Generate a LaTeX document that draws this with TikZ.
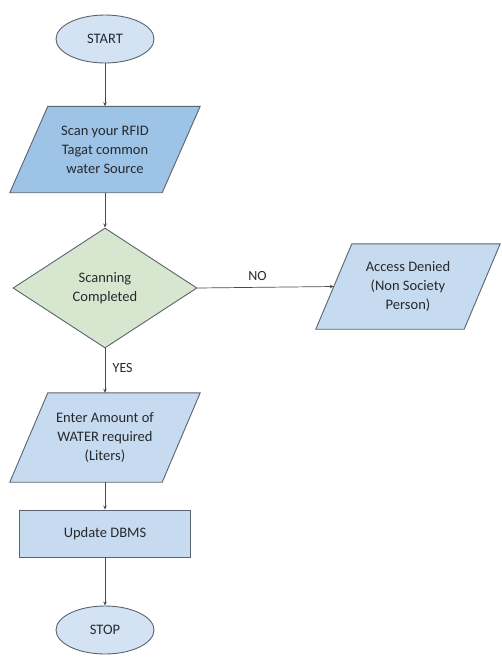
\documentclass[tikz,border=0pt]{standalone}
\usepackage{fontspec}
\setmainfont{Carlito}
\usetikzlibrary{shapes.geometric,arrows.meta,backgrounds}
\definecolor{bordc}{HTML}{5A646E}
\definecolor{linec}{HTML}{4A4A4A}
\definecolor{txtc}{HTML}{262A2E}
\definecolor{scanfill}{HTML}{9DC3E6}
\definecolor{parafill}{HTML}{C6DAF0}
\definecolor{ellfill}{HTML}{D4E3F4}
\definecolor{decfill}{HTML}{D7E7CF}
\begin{document}
\begin{tikzpicture}[x=1pt,y=-1pt,
  every node/.style={font=\fontsize{14.5}{19}\selectfont, text=txtc, align=center},
  term/.style={ellipse, draw=bordc, fill=ellfill, line width=0.9pt, minimum width=98pt, minimum height=48pt, inner sep=0pt},
  parabox/.style={rectangle, draw=none, inner sep=0pt},
  shapeline/.style={draw=bordc, line width=0.9pt},
  decbox/.style={diamond, draw=bordc, fill=decfill, line width=0.9pt, minimum width=184pt, minimum height=120pt, inner sep=0pt},
  procbox/.style={rectangle, draw=bordc, fill=parafill, line width=0.9pt, minimum width=171pt, minimum height=47pt, inner sep=0pt},
  conn/.style={draw=linec, line width=0.7pt, -{Stealth[length=4pt,width=3.5pt]}},
  lbl/.style={font=\fontsize{14}{16}\selectfont}
]
\useasboundingbox (0,0) rectangle (502,659);

\node[term] (start) at (105,39) {START};

\node[parabox, minimum width=152pt, minimum height=86pt] (scan) at (105,149.5)
  {Scan your RFID\\Tagat common\\water Source};

\node[decbox] (dec) at (105,288) {Scanning\\Completed};

\node[parabox, minimum width=148pt, minimum height=85pt] (acc) at (408,286.5)
  {Access Denied\\(Non Society\\Person)};

\node[parabox, minimum width=152pt, minimum height=89pt] (enter) at (105,437.5)
  {Enter Amount of\\WATER required\\(Liters)};

\node[procbox] (upd) at (105,533.5) {Update DBMS};

\node[term] (stop) at (105,630) {STOP};

\begin{scope}[on background layer]
  \path[shapeline, fill=scanfill]
    ([xshift=19pt]scan.north west) -- ([xshift=19pt]scan.north east)
    -- ([xshift=-19pt]scan.south east) -- ([xshift=-19pt]scan.south west) -- cycle;
  \path[shapeline, fill=parafill]
    ([xshift=18pt]acc.north west) -- ([xshift=18pt]acc.north east)
    -- ([xshift=-18pt]acc.south east) -- ([xshift=-18pt]acc.south west) -- cycle;
  \path[shapeline, fill=parafill]
    ([xshift=19pt]enter.north west) -- ([xshift=19pt]enter.north east)
    -- ([xshift=-19pt]enter.south east) -- ([xshift=-19pt]enter.south west) -- cycle;
\end{scope}

\path[conn] (start.south) -- (scan.north);
\path[conn] (scan.south) -- (dec.north);
\path[conn] (dec.east) -- node[lbl, above=3pt, pos=0.44] (nolbl) {NO} (acc.west);
\path[conn] (dec.south) -- node[lbl, right=4pt, pos=0.45] (yeslbl) {YES} (enter.north);
\path[conn] (enter.south) -- (upd.north);
\path[conn] (upd.south) -- (stop.north);
\end{tikzpicture}
\end{document}
